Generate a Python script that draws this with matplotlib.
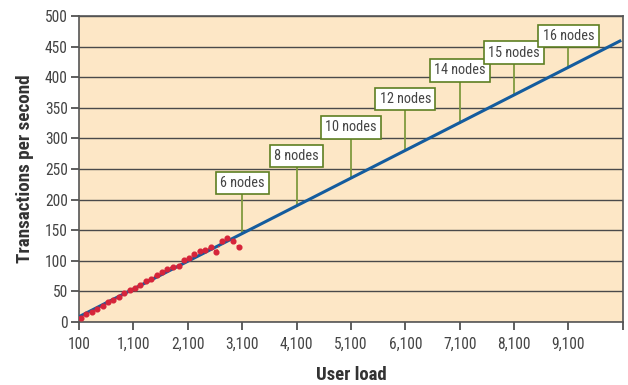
import numpy as np
import matplotlib
matplotlib.use("Agg")
import matplotlib.pyplot as plt
from matplotlib.ticker import FuncFormatter

plt.rcParams["font.family"] = ["Roboto Condensed", "DejaVu Sans"]

# measured throughput (red dotted series)
load_measured = [131, 228, 333, 425, 535, 638, 730, 834, 932, 1030, 1128, 1225,
                 1330, 1427, 1526, 1623, 1720, 1820, 1935, 2032, 2124, 2223,
                 2320, 2425, 2522, 2627, 2724, 2828, 2926, 3036]
tps_measured = [6, 12.6, 17, 21, 26.7, 32, 36, 41, 47, 53, 56, 61, 67.5, 71, 77,
                81, 87, 90, 91, 101, 104, 110.6, 116, 118, 122, 115, 133, 137,
                132, 122]

# projected linear scaling (blue line)
load_fit = [130, 10045]
tps_fit = [10, 459]

# node annotations
node_labels = ["6 nodes", "8 nodes", "10 nodes", "12 nodes", "14 nodes",
               "15 nodes", "16 nodes"]
node_loads = [3100, 4100, 5100, 6100, 7100, 8100, 9100]
label_y = [227, 271, 318, 364, 411, 440, 467]

xticks = [100, 1100, 2100, 3100, 4100, 5100, 6100, 7100, 8100, 9100, 10100]
yticks = list(range(0, 501, 50))

fig = plt.figure(figsize=(6.28, 3.85), dpi=100)
ax = fig.add_axes([0.1258, 0.1636, 0.866, 0.795])
ax.set_facecolor("#FDE7C6")

ax.set_xlim(100, 10100)
ax.set_ylim(0, 500)
ax.set_xticks(xticks)
ax.set_yticks(yticks)
ax.xaxis.set_major_formatter(
    FuncFormatter(lambda v, p: "" if v > 9500 else f"{int(v):,}"))
ax.yaxis.grid(True, color="#4a4a4a", lw=1.0)
ax.set_axisbelow(True)
for s in ax.spines.values():
    s.set_color("#555555")
    s.set_linewidth(1.2)
ax.tick_params(colors="#333333", labelsize=11.2, length=6, width=1.1,
               labelcolor="#444444")
ax.tick_params(axis="y", pad=2)
ax.tick_params(axis="x", pad=5)

ax.plot(load_fit, tps_fit, color="#145C9E", lw=2.2, zorder=3)
ax.plot(load_measured, tps_measured, color="#D6243A", lw=1.0, ls=":",
        marker="o", ms=3.4, zorder=4)

for lab, xv, yv in zip(node_labels, node_loads, label_y):
    line_y = np.interp(xv, load_fit, tps_fit)
    ax.plot([xv, xv], [line_y, yv], color="#7F9A3E", lw=1.3, zorder=2)
    ax.text(xv, yv, lab, ha="center", va="center", fontsize=10.3,
            color="#444444", zorder=5,
            bbox=dict(boxstyle="square,pad=0.3", fc="white",
                      ec="#5E7F22", lw=1.2))

ax.set_xlabel("User load", fontsize=13.5, fontweight="bold", color="#333333",
              labelpad=10)
ax.set_ylabel("Transactions per second", fontsize=13.8, fontweight="bold",
              color="#333333", labelpad=8)

fig.savefig("out.png", dpi=100)
